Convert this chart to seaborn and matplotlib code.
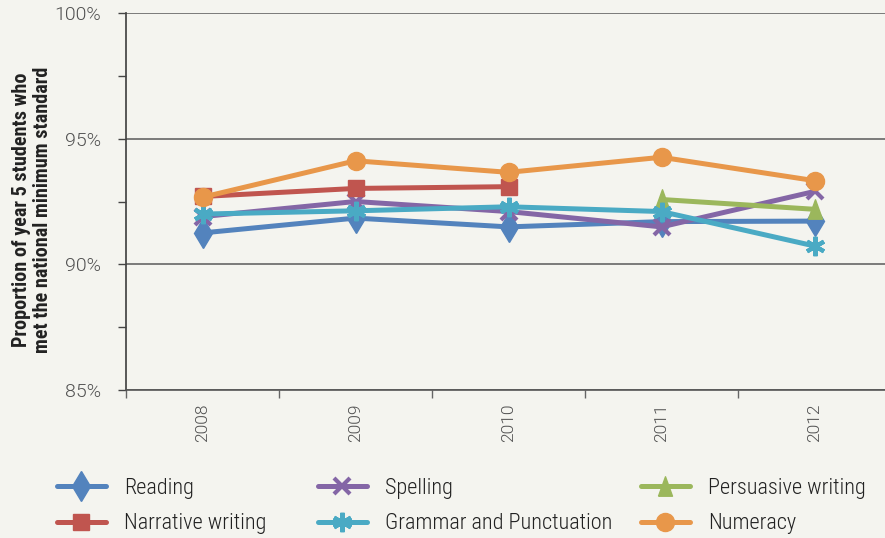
import matplotlib
matplotlib.use("Agg")
import matplotlib.pyplot as plt
import matplotlib.ticker as mticker
import seaborn as sns
import pandas as pd

years = ["2008", "2009", "2010", "2011", "2012"]
reading = [91.25, 91.84, 91.49, 91.70, 91.72]
spelling = [91.90, 92.50, 92.10, 91.49, 92.90]
persuasive_years = ["2011", "2012"]
persuasive = [92.58, 92.19]
narrative_years = ["2008", "2009", "2010"]
narrative = [92.70, 93.02, 93.09]
grammar = [92.00, 92.13, 92.29, 92.10, 90.73]
numeracy = [92.67, 94.12, 93.66, 94.26, 93.33]

tri = [(-0.36, -0.5), (0.36, -0.5), (0.0, 0.5), (-0.36, -0.5)]
series = [
    ("Reading", years, reading, "#5383BD", "d", 15, 1),
    ("Spelling", years, spelling, "#8466A6", "x", 11.5, 3),
    ("Persuasive writing", persuasive_years, persuasive, "#9BB75C", tri, 14, 1),
    ("Narrative writing", narrative_years, narrative, "#C0554F", "s", 11, 1),
    ("Grammar and Punctuation", years, grammar, "#4AAAC4", (6, 2, 0), 14, 3),
    ("Numeracy", years, numeracy, "#E8974A", "o", 13, 1),
]

bg = "#F4F4EF"
sns.set_theme(style="white")
plt.rcParams["font.family"] = ["Roboto", "DejaVu Sans"]

fig = plt.figure(figsize=(8.85, 5.38), dpi=100, facecolor=bg)
ax = fig.add_axes([126 / 885, 1 - 390 / 538, 765 / 885, 377 / 538])
ax.set_facecolor(bg)

for name, xs, ys, col, mk, ms, mew in series:
    df = pd.DataFrame({"year": xs, "value": ys})
    sns.lineplot(data=df, x="year", y="value", ax=ax, color=col, lw=3.6,
                 marker=mk, markersize=ms, markeredgewidth=mew,
                 markeredgecolor=col, markerfacecolor=col, label=name,
                 sort=False, legend=False, solid_capstyle="round")

ax.set_xlim(-0.5, 4.5)
ax.set_ylim(85, 100)
ax.yaxis.set_major_locator(mticker.MultipleLocator(5))
ax.yaxis.set_minor_locator(mticker.MultipleLocator(2.5))
ax.yaxis.set_major_formatter(mticker.FuncFormatter(lambda v, p: f"{v:.0f}%"))
ax.set_xticks(range(5))
ax.set_xticklabels(years, rotation=90)
ax.set_xticks([i - 0.5 for i in range(6)], minor=True)
ax.tick_params(axis="x", which="major", length=0, pad=9.5, labelsize=12.5, labelcolor="#505050")
ax.tick_params(axis="x", which="minor", length=6, width=1, color="#666666", direction="out", bottom=True)
ax.tick_params(axis="y", which="both", length=6, width=1, color="#444444", direction="out", left=True,
               labelsize=14, labelcolor="#505050", pad=12)
for lab in ax.get_xticklabels() + ax.get_yticklabels():
    lab.set_fontweight(300)
ax.grid(axis="y", which="major", color="#666666", lw=1.2)
ax.grid(axis="x", visible=False)
for s in ["top", "right"]:
    ax.spines[s].set_visible(False)
ax.spines["left"].set_color("#444444")
ax.spines["bottom"].set_color("#555555")
ax.spines["bottom"].set_linewidth(1.2)
ax.set_xlabel("")
ax.set_ylabel("")
fig.text(32 / 885, 1 - 210 / 538,
         "Proportion of year 5 students who\nmet the national minimum standard",
         rotation=90, ha="center", va="center", multialignment="center",
         fontsize=14.5, fontweight="bold", color="#222222",
         family=["Roboto Condensed", "DejaVu Sans"], linespacing=1.1)

handles, labels = ax.get_legend_handles_labels()
hmap = dict(zip(labels, handles))
columns = [
    (["Reading", "Narrative writing"], 57),
    (["Spelling", "Grammar and Punctuation"], 318),
    (["Persuasive writing", "Numeracy"], 641),
]
for names, x0 in columns:
    leg = fig.legend([hmap[n] for n in names], names, loc="center left",
                     bbox_to_anchor=(x0 / 885, 1 - 506 / 538), frameon=False,
                     borderpad=0, borderaxespad=0, handlelength=2.2, handletextpad=0.8,
                     labelspacing=0.66,
                     prop={"family": ["Roboto Condensed", "DejaVu Sans"], "size": 16, "weight": 300})
    for t in leg.get_texts():
        t.set_color("#222222")

fig.savefig("out.png", dpi=100, facecolor=bg)
